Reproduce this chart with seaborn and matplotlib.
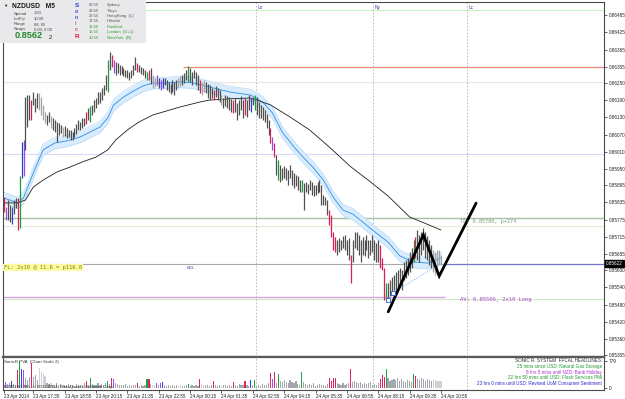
import numpy as np
import pandas as pd
import matplotlib
matplotlib.use("Agg")
import matplotlib.pyplot as plt
import seaborn as sns
from matplotlib.patches import Rectangle

# ---------------- data ----------------
PRICE_BASE = 0.85000  # bar highs/lows below are in points (0.00001) above this base
high_pts = [853, 819, 843, 826, 819, 843, 850, 850, 926, 1044, 1051, 1200, 1207, 1207, 1190, 1218,
            1197, 1214, 1214, 1200, 1173, 1148, 1138, 1148, 1135, 1128, 1121, 1114, 1110, 1103, 1096, 1100,
            1093, 1086, 1086, 1079, 1093, 1107, 1121, 1114, 1128, 1128, 1148, 1162, 1169, 1173, 1190, 1197,
            1218, 1218, 1232, 1242, 1277, 1329, 1357, 1346, 1329, 1322, 1318, 1312, 1308, 1301, 1294, 1294,
            1287, 1294, 1312, 1339, 1318, 1312, 1305, 1301, 1294, 1287, 1294, 1301, 1277, 1266, 1277, 1266,
            1259, 1266, 1266, 1259, 1253, 1246, 1259, 1253, 1259, 1266, 1273, 1277, 1284, 1294, 1308, 1301,
            1287, 1294, 1287, 1277, 1259, 1253, 1259, 1253, 1246, 1242, 1232, 1225, 1239, 1232, 1225, 1207,
            1197, 1207, 1204, 1200, 1194, 1190, 1197, 1180, 1190, 1204, 1190, 1197, 1190, 1207, 1197, 1200,
            1207, 1200, 1183, 1173, 1166, 1155, 1141, 1121, 1093, 1062, 1041, 999, 982, 965, 954, 961,
            954, 947, 965, 947, 937, 930, 926, 912, 912, 902, 906, 899, 912, 906, 895, 895,
            906, 912, 895, 860, 853, 843, 808, 791, 732, 715, 704, 711, 704, 718, 722, 704,
            711, 652, 704, 732, 732, 722, 704, 715, 704, 722, 704, 704, 722, 704, 694, 704,
            687, 642, 607, 555, 555, 565, 576, 583, 593, 600, 607, 600, 628, 635, 642, 663,
            676, 704, 715, 739, 722, 732, 746, 732, 718, 704, 687, 670, 663, 670, 670, 652]
low_pts = [801, 774, 774, 767, 760, 794, 815, 739, 746, 919, 926, 1017, 1096, 1121, 1121, 1173,
           1148, 1162, 1155, 1138, 1121, 1110, 1103, 1114, 1093, 1086, 1079, 1044, 1069, 1076, 1062, 1065,
           1058, 1062, 1051, 1051, 1062, 1072, 1086, 1086, 1093, 1100, 1107, 1121, 1114, 1138, 1148, 1162,
           1176, 1180, 1190, 1207, 1225, 1218, 1294, 1305, 1284, 1277, 1284, 1277, 1280, 1273, 1270, 1266,
           1259, 1266, 1277, 1294, 1287, 1287, 1280, 1277, 1266, 1259, 1259, 1246, 1232, 1239, 1242, 1232,
           1225, 1232, 1242, 1225, 1218, 1211, 1218, 1207, 1225, 1232, 1239, 1242, 1249, 1259, 1253, 1253,
           1242, 1266, 1242, 1225, 1214, 1207, 1218, 1214, 1197, 1190, 1197, 1190, 1200, 1190, 1183, 1173,
           1162, 1169, 1162, 1155, 1148, 1145, 1148, 1121, 1138, 1155, 1128, 1138, 1131, 1155, 1148, 1173,
           1155, 1138, 1128, 1128, 1121, 1114, 1093, 1069, 1041, 1017, 992, 930, 912, 906, 912, 919,
           912, 895, 919, 895, 885, 892, 878, 871, 871, 808, 871, 864, 878, 860, 857, 860,
           867, 871, 826, 826, 826, 791, 756, 715, 670, 663, 652, 663, 670, 676, 670, 652,
           635, 555, 628, 676, 670, 652, 628, 652, 649, 670, 642, 652, 663, 635, 628, 628,
           607, 600, 496, 496, 503, 510, 513, 531, 524, 538, 548, 531, 565, 572, 583, 593,
           607, 628, 642, 635, 628, 652, 670, 642, 635, 618, 607, 593, 583, 607, 618, 618]
# PVA colour class per bar: g normal, l light, r red climax, G green climax, b blue, p purple
bar_codes = ("rpggbggrGbpgggrg" "ggllllgglggggglg" "ggggggggggrgGggg" "gggggGgrpggggggg"
             "ggggrggggGrgllpg" "pbgggggggllgggGg" "ggggrllggggrgggl" "gggggrgggggrggbg"
             "GgggggggrprgGggg" "ggggggggGggggggg" "ggggggrrrrgggggg" "grgggggggggggggg"
             "rrrGgggggggggggg" "gGrgggggggglllll")
volume = [190, 170, 115, 140, 190, 110, 95, 520, 779, 550, 520, 285, 240, 330, 710, 330,
          380, 240, 570, 475, 400, 360, 140, 120, 150, 100, 90, 130, 80, 110, 100, 90,
          75, 120, 95, 80, 70, 110, 90, 80, 100, 130, 190, 100, 285, 120, 90, 100,
          130, 80, 110, 90, 150, 210, 120, 285, 265, 150, 120, 100, 90, 80, 110, 70,
          90, 60, 80, 100, 140, 70, 90, 60, 80, 256, 265, 120, 100, 90, 140, 80,
          140, 170, 80, 60, 90, 70, 100, 60, 80, 70, 90, 60, 70, 80, 115, 70,
          90, 60, 80, 70, 265, 120, 100, 80, 90, 70, 100, 210, 80, 70, 90, 60,
          80, 100, 60, 90, 70, 170, 90, 70, 110, 80, 100, 190, 90, 70, 240, 80,
          240, 60, 90, 70, 110, 80, 100, 130, 430, 265, 475, 140, 400, 200, 160, 220,
          180, 150, 230, 170, 140, 190, 120, 100, 455, 160, 120, 90, 110, 80, 130, 70,
          90, 120, 80, 100, 70, 110, 285, 200, 300, 300, 150, 120, 100, 130, 90, 110,
          140, 540, 160, 200, 170, 140, 180, 120, 150, 110, 130, 160, 100, 120, 90, 140,
          255, 380, 330, 550, 280, 200, 240, 260, 220, 280, 190, 250, 210, 180, 240, 200,
          170, 400, 360, 260, 230, 280, 250, 210, 270, 240, 200, 260, 230, 200, 210, 190]

ma_fast_idx = [0, 7, 10, 15, 20, 26, 32, 39, 44, 49, 53, 56, 61, 66, 71, 76, 83, 90, 97, 105,
               115, 126, 132, 137, 142, 148, 153, 158, 163, 168, 173, 178, 183, 188, 196, 202, 209, 216, 223]
ma_fast = [0.85850, 0.85833, 0.85850, 0.85937, 0.86017, 0.86041, 0.86048, 0.86062, 0.86079, 0.86096,
           0.86128, 0.86173, 0.86200, 0.86221, 0.86239, 0.86249, 0.86249, 0.86253, 0.86249, 0.86235,
           0.86218, 0.86207, 0.86183, 0.86145, 0.86079, 0.86027, 0.85989, 0.85954, 0.85912, 0.85853,
           0.85808, 0.85794, 0.85767, 0.85739, 0.85697, 0.85649, 0.85628, 0.85624, 0.85642]
ma_slow_idx = [0, 7, 11, 15, 20, 27, 34, 40, 47, 53, 57, 63, 69, 76, 83, 90, 100, 105, 115, 126,
               136, 146, 156, 166, 177, 187, 196, 207, 217, 223]
ma_slow = [0.85833, 0.85833, 0.85843, 0.85888, 0.85912, 0.85940, 0.85958, 0.85975, 0.85992, 0.86017,
           0.86051, 0.86086, 0.86114, 0.86138, 0.86152, 0.86166, 0.86183, 0.86190, 0.86194, 0.86197,
           0.86173, 0.86131, 0.86086, 0.86027, 0.85958, 0.85906, 0.85857, 0.85784, 0.85756, 0.85739]

zigzag_idx = [196.1, 214.0, 222.1, 240.9]
zigzag_price = [0.85455, 0.85722, 0.85579, 0.85832]
anchor_idx = [196.0, 198.4]
anchor_price = [0.85496, 0.85521]
trend_idx = [198.4, 223.4]
trend_price = [0.85521, 0.85624]

price_ticks = [0.86485, 0.86425, 0.86365, 0.86305, 0.86250, 0.86190, 0.86130, 0.86070, 0.86010, 0.85950,
               0.85895, 0.85835, 0.85775, 0.85715, 0.85655, 0.85600, 0.85540, 0.85480, 0.85420, 0.85360, 0.85305]
last_price = 0.85622
time_tick_idx = [0, 15, 31, 47, 63, 79, 95, 111, 127, 143, 159, 175, 191, 207, 223]
time_labels = ["23 Apr 2014", "23 Apr 17:35", "23 Apr 18:55", "23 Apr 20:15", "23 Apr 21:35", "23 Apr 22:55",
               "24 Apr 00:15", "24 Apr 01:35", "24 Apr 02:55", "24 Apr 04:15", "24 Apr 05:35", "24 Apr 06:55",
               "24 Apr 08:15", "24 Apr 09:35", "24 Apr 10:55"]
session_idx = [128.6, 188.3, 236.3]
session_labels = ["Lo", "Ny", "Lc"]

tp_level, tp_band = 0.85780, 0.85753
av_level, av_band = 0.85506, 0.85500
high_level = 0.86305
top_level, beige_level, lav_level = 0.86502, 0.86253, 0.86003

# ---------------- styling ----------------
sns.set_theme(style="white")
plt.rcParams['font.family'] = ['Liberation Sans', 'DejaVu Sans']

W, H = 625, 399
fig = plt.figure(figsize=(W / 100, H / 100), dpi=100)
fig.patch.set_facecolor("white")

N = len(high_pts)
idx = np.arange(N)
high = PRICE_BASE + np.array(high_pts) / 1e5
low = PRICE_BASE + np.array(low_pts) / 1e5
codes = list(bar_codes)
price_pal = {'g': '#505050', 'l': '#a4a4a4', 'r': '#dc1f52', 'G': '#1d9c3c', 'b': '#2a3fd6', 'p': '#a046e4'}
vol_pal = {'g': '#a2a7ae', 'l': '#cfd1d6', 'r': '#e2235c', 'G': '#22a544', 'b': '#2b49da', 'p': '#a64ae8'}

XL = ((3 - 3.9) / 1.96, (604 - 3.9) / 1.96)

ax = fig.add_axes([3 / W, 1 - 357 / H, 601 / W, 355 / H])
ax.set_facecolor("white")
ax.set_xlim(*XL)
ax.set_ylim(PRICE_BASE + (1537 - 3.47 * 357) / 1e5, PRICE_BASE + (1537 - 3.47 * 2) / 1e5)


def hl(y, x0, x1, color, lw=0.8, z=1):
    ax.hlines(y, x0, x1, colors=color, lw=lw, zorder=z)


hl(top_level, XL[0], XL[1], '#c6f2c6')
hl(beige_level, XL[0], XL[1], '#ebe9dc')
hl(lav_level, XL[0], XL[1], '#dcd6f8')
hl(high_level, 91.4, XL[1], '#ef8a78', 0.9)
hl(tp_level, XL[0], XL[1], '#a3c3a3', 1.0)
hl(tp_band, XL[0], XL[1], '#e3eed8', 0.8)
hl(last_price, XL[0], 224.8, '#a8a8a8', 0.8)
hl(last_price, 224.8, XL[1], '#7474d6', 0.9)
hl(av_level, XL[0], 225.0, '#d9a2e6', 1.0)
hl(av_band, XL[0], XL[1], '#c9ebc2', 0.8)

# session separators
for si, sl in zip(session_idx, session_labels):
    ax.axvline(si, color='#b4b4b4', lw=0.6, ls=(0, (2, 2)), zorder=1)
    ax.text(si + 1.0, 0.86512, sl, fontsize=3.4, color='#3c3c9c', va='center', ha='left')

# moving averages with envelope band
fi = np.array(ma_fast_idx)
fv = np.array(ma_fast)
BAND = 0.00020
ax.fill_between(fi, fv - BAND, fv + BAND, color='#d8ecfd', lw=0, zorder=2)
ax.plot(fi, fv - BAND, color='#b9daf8', lw=0.5, zorder=2)
ax.plot(fi, fv + BAND, color='#b9daf8', lw=0.5, zorder=2)
sns.lineplot(x=fi, y=fv, ax=ax, color='#2b8be8', lw=0.6, zorder=3)
sns.lineplot(x=ma_slow_idx, y=ma_slow, ax=ax, color='#1e1e1e', lw=0.6, zorder=3)

# price bars
ax.vlines(idx, low, high, colors=[price_pal[c] for c in codes], lw=0.9, zorder=4)

# drawn objects
ax.plot(trend_idx, trend_price, color='#7ab0f0', lw=0.6, ls=(0, (1.5, 1.5)), zorder=5)
ax.plot(zigzag_idx, zigzag_price, color='black', lw=2.0, zorder=6, solid_joinstyle='miter')
ax.scatter(anchor_idx, anchor_price, marker='s', s=5, facecolor='white', edgecolor='#1e5fe0', lw=0.6, zorder=7)

# texts on chart
mono = ['DejaVu Sans Mono']
ax.text(232.5, tp_level - 0.00012, "TP: 0.85780, p+274", fontsize=3.8, family=mono, color='#7f9f7f',
        va='center', ha='left', zorder=8)
ax.text(232.5, av_level - 0.00010, "AV: 0.85506, 2x10 Long", fontsize=4.0, family=mono, color='#b04ad0',
        va='center', ha='left', zorder=8)
ax.text(0.0, last_price - 0.00014, "FL: 2x10 @ 11.6 = p116.0", fontsize=4.0, family=mono, color='#7c7c10',
        va='center', ha='left', zorder=8,
        bbox=dict(boxstyle='square,pad=0.15', fc='#fdfca0', ec='none'))
ax.text(93.0, last_price - 0.00014, "KDL", fontsize=3.0, color='#4a3a9a', va='center', ha='left', zorder=8)

# price axis
ax.yaxis.tick_right()
ax.set_yticks(price_ticks)
ax.set_yticklabels([f"{p:.5f}" for p in price_ticks])
ax.tick_params(axis='y', which='both', direction='out', length=2, width=0.5, pad=1.5,
               labelsize=3.3, colors='#222222', right=True, left=False)
ax.set_xticks([])
ax.text(1.0 + 2 / 601, last_price, f"{last_price:.5f}", transform=ax.get_yaxis_transform(),
        fontsize=3.3, color='white', va='center', ha='left', zorder=9, clip_on=False,
        bbox=dict(boxstyle='square,pad=0.25', fc='black', ec='black'))
for s in ax.spines.values():
    s.set_color('#4a4a4a')
    s.set_linewidth(0.8)
ax.spines['bottom'].set_linewidth(1.6)
ax.spines['bottom'].set_color('#5a5a5a')

# ---------------- volume panel ----------------
axv = fig.add_axes([3 / W, 1 - 390 / H, 601 / W, 33 / H])
vdf = pd.DataFrame({'i': idx, 'vol': volume, 'code': codes})
sns.barplot(data=vdf, x='i', y='vol', hue='code', palette=vol_pal, native_scale=True, dodge=False,
            width=0.6, saturation=1, errorbar=None, legend=False, linewidth=0, ax=axv)
axv.set_xlim(*XL)
px_per = 27 / 779
axv.set_ylim(-2 / px_per, 779 + 4 / px_per)
for si in session_idx:
    axv.axvline(si, color='#b4b4b4', lw=0.6, ls=(0, (2, 2)), zorder=0)
axv.set_xlabel('')
axv.set_ylabel('')
axv.yaxis.tick_right()
axv.set_yticks([0, 779])
axv.set_yticklabels(['0', '779'])
axv.set_xticks(time_tick_idx)
axv.set_xticklabels(time_labels)
for lab in axv.get_xticklabels():
    lab.set_ha('left')
axv.tick_params(axis='x', direction='out', length=2, width=0.5, pad=1.2, labelsize=3.3, colors='#222222', bottom=True)
axv.tick_params(axis='y', direction='out', length=2, width=0.5, pad=1.5, labelsize=3.3, colors='#222222', right=True, left=False)
for s in axv.spines.values():
    s.set_color('#4a4a4a')
    s.set_linewidth(0.8)
axv.spines['top'].set_linewidth(1.6)
axv.spines['top'].set_color('#5a5a5a')
axv.text(0.0, 740, "SonicR PVA  (Chart Scale 2)", fontsize=3.2, color='#333333', va='center', ha='left')
axv.text(0.0, 40, "NZDUSD,M5, \u00a9 2001-2014, MetaQuotes Software Corp.", fontsize=3.2, color='#333333',
         va='center', ha='left', zorder=10)

head = [("SONIC R. SYSTEM  FFCAL HEADLINES:", '#2a2a2a'),
        ("25 mins since USD: Natural Gas Storage", '#1f9a2f'),
        ("8 hrs 5 mins until NZD: Bank Holiday", '#b030d0'),
        ("22 hrs 50 mins until USD: Flash Services PMI", '#1f9a2f'),
        ("23 hrs 0 mins until USD: Revised UoM Consumer Sentiment", '#2a2ad0')]


def ptxt(px, py, s, **kw):
    kw.setdefault('va', 'center')
    kw.setdefault('ha', 'left')
    kw.setdefault('zorder', 12)
    return fig.text(px / W, 1 - py / H, s, **kw)


for k, (s, c) in enumerate(head):
    ptxt(602, 361 + 5.6 * k, s, fontsize=3.3, color=c, ha='right')

# ---------------- info panel (top-left) ----------------
fig.patches.append(Rectangle((0, 1 - 43 / H), 146 / W, 43 / H, transform=fig.transFigure,
                             facecolor='#e9e9ec', edgecolor='none', zorder=11))
ptxt(3, 5.5, "\u25bc", fontsize=3.2, color='#222222')
ptxt(12, 6, "NZDUSD   M5", fontsize=4.8, weight='bold', color='#1a1a1a')
for k, (a, b) in enumerate([("Spread", "1.60"), ("LotPip", "10.00"), ("Range", "68, 65"), ("Swaps", "0.00, 0.00")]):
    ptxt(14, 13.5 + 5.3 * k, a, fontsize=3.0, color='#444444')
    ptxt(34, 13.5 + 5.3 * k, b, fontsize=3.0, color='#444444')
ptxt(15, 36, "0.8562", fontsize=6.6, color='#1e8a28', weight='bold')
ptxt(49, 37.5, "2", fontsize=4.2, color='#1e1e1e')
for k, (ch, c) in enumerate([("S", '#2436f0'), ("o", '#3040e8'), ("n", '#5a46e0'),
                             ("i", '#e24a8a'), ("c", '#e23a66'), ("R", '#e0143c')]):
    ptxt(74.5, 5.5 + 6.1 * k, ch, fontsize=4.6 if ch in "SR" else 3.8, weight='bold', color=c)
clocks = [("00:55", "Sydney"), ("23:55", "Tokyo"), ("22:55", "HongKong  (L)"), ("17:55", "Helsinki"),
          ("16:55", "Frankfurt"), ("15:55", "London  (G+1)"), ("10:55", "NewYork  (B)")]
for k, (t, n) in enumerate(clocks):
    c = '#555555' if k < 4 else '#2f9a2f'
    ptxt(89, 5.3 + 5.4 * k, t, fontsize=3.0, color=c)
    ptxt(107, 5.3 + 5.4 * k, n, fontsize=3.0, color=c)

fig.savefig("out.png", dpi=100)
